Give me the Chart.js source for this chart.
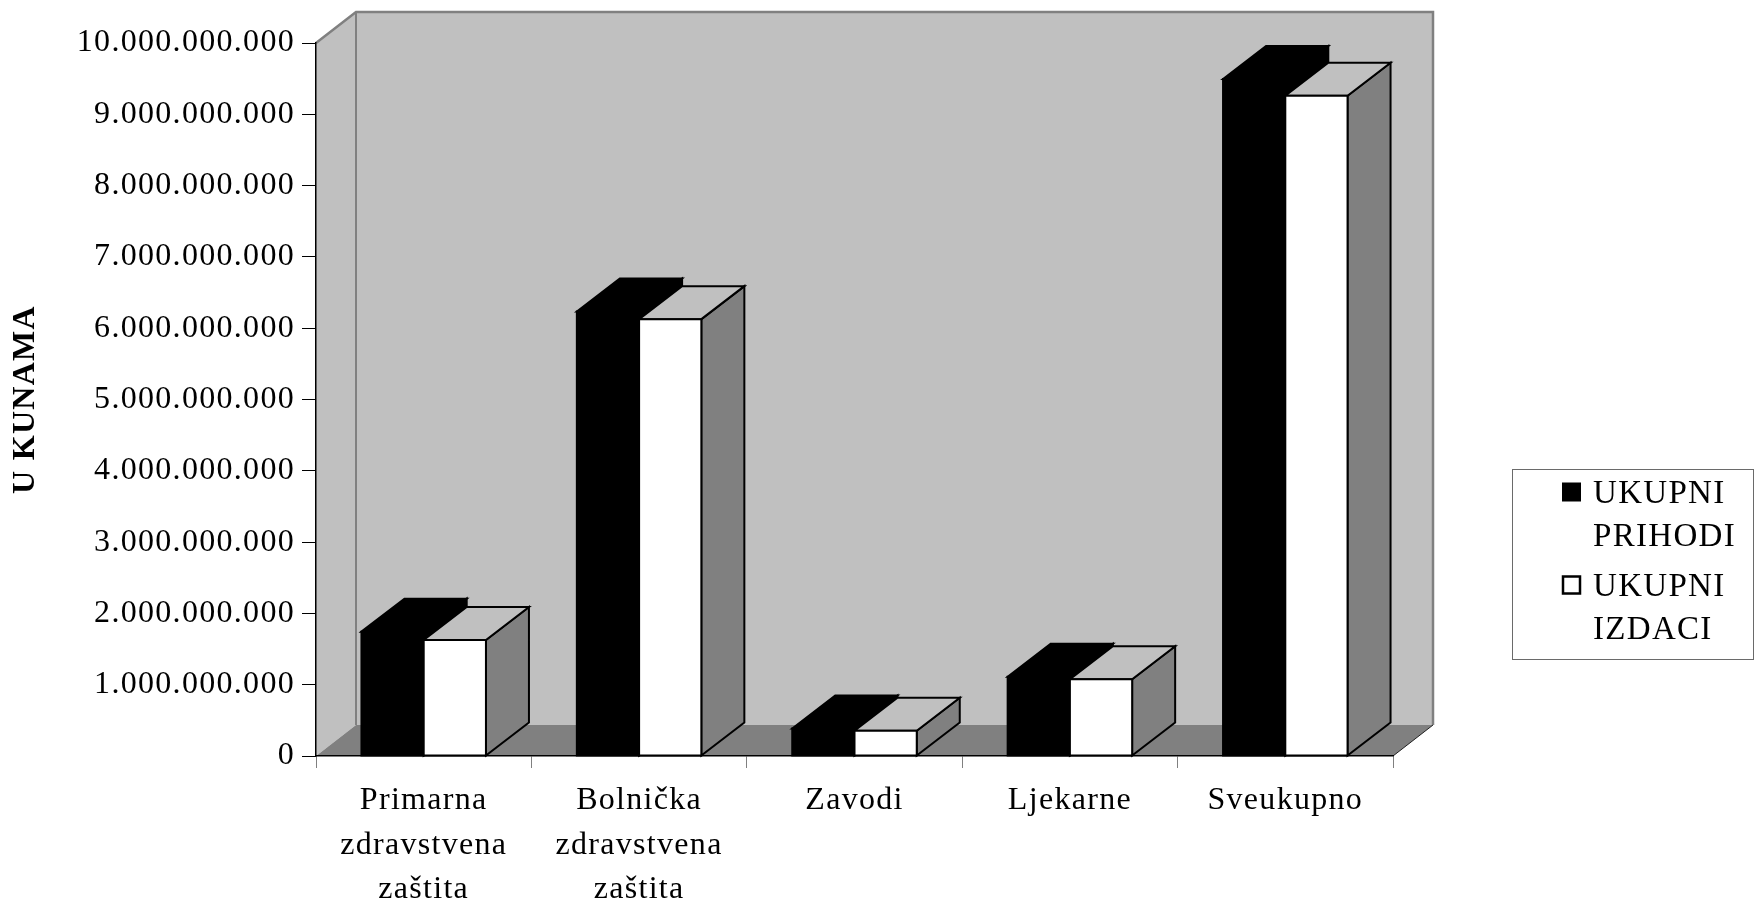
<!DOCTYPE html>
<html><head><meta charset="utf-8">
<script src="https://cdn.jsdelivr.net/npm/chart.js@4.4.0/dist/chart.umd.min.js"></script>
<style>html,body{margin:0;padding:0;background:#fff;} canvas{display:block;}</style>
</head><body>
<canvas id="c" width="1760" height="904" style="width:1760px;height:904px"></canvas>
<script>
const categories = [["Primarna","zdravstvena","zaštita"],["Bolnička","zdravstvena","zaštita"],"Zavodi","Ljekarne","Sveukupno"];
const seriesNames = ["UKUPNI PRIHODI","UKUPNI IZDACI"];
const legendLines = [["UKUPNI","PRIHODI"],["UKUPNI","IZDACI"]];
const prihodi = [1744000000, 6234000000, 385000000, 1110000000, 9495000000];
const izdaci  = [1628000000, 6127000000, 355000000, 1076000000, 9260000000];
const yMin = 0, yMax = 10000000000, yStep = 1000000000;
const yTitle = "U KUNAMA";

const FONT = '"Liberation Serif", "Times New Roman", serif';
const BAR_DX = 43, BAR_DY = 33, WALL_DX = 40, WALL_DY = 31;
const SPACING = '1.3px';

function fmt(v){ return String(Math.round(v)).replace(/\B(?=(\d{3})+(?!\d))/g, '.'); }

function poly(ctx, pts){ ctx.beginPath(); ctx.moveTo(pts[0][0], pts[0][1]); for (let i=1;i<pts.length;i++) ctx.lineTo(pts[i][0], pts[i][1]); ctx.closePath(); }

const wallsPlugin = {
  id: 'walls',
  beforeDraw(chart){
    const ctx = chart.ctx;
    ctx.letterSpacing = SPACING;
    const {left:L, right:R, top:T, bottom:B} = chart.chartArea;
    const dx = WALL_DX, dy = WALL_DY;
    ctx.save();
    ctx.fillStyle = '#c0c0c0';
    poly(ctx, [[L,T],[L+dx,T-dy],[L+dx,B-dy],[L,B]]); ctx.fill();
    ctx.fillRect(L+dx, T-dy, (R+dx)-(L+dx), (B-dy)-(T-dy));
    ctx.fillStyle = '#808080';
    poly(ctx, [[L,B],[L+dx,B-dy],[R+dx,B-dy],[R,B]]); ctx.fill();
    ctx.strokeStyle = '#808080';
    ctx.lineWidth = 2.5;
    ctx.beginPath();
    ctx.moveTo(L, T); ctx.lineTo(L+dx, T-dy); ctx.lineTo(R+dx, T-dy); ctx.lineTo(R+dx, B-dy);
    ctx.stroke();
    ctx.lineWidth = 2;
    ctx.beginPath(); ctx.moveTo(L+dx, T-dy); ctx.lineTo(L+dx, B-dy); ctx.stroke();
    ctx.strokeStyle = '#202020'; ctx.lineWidth = 1;
    ctx.beginPath(); ctx.moveTo(R, B); ctx.lineTo(R+dx, B-dy); ctx.stroke();
    ctx.restore();
  }
};

function drawBox(ctx, x0, x1, y, base, dark){
  const dx = BAR_DX, dy = BAR_DY;
  const front = [[x0,y],[x1,y],[x1,base],[x0,base]];
  const top = [[x0,y],[x0+dx,y-dy],[x1+dx,y-dy],[x1,y]];
  const side = [[x1,y],[x1+dx,y-dy],[x1+dx,base-dy],[x1,base]];
  ctx.lineWidth = 2; ctx.lineJoin = 'miter'; ctx.strokeStyle = '#000';
  if (dark){
    ctx.fillStyle = '#000';
    [side, top, front].forEach(p => { poly(ctx, p); ctx.fill(); ctx.stroke(); });
  } else {
    ctx.fillStyle = '#808080'; poly(ctx, side); ctx.fill(); ctx.stroke();
    ctx.fillStyle = '#c0c0c0'; poly(ctx, top); ctx.fill(); ctx.stroke();
    ctx.fillStyle = '#ffffff'; poly(ctx, front); ctx.fill(); ctx.stroke();
  }
}

const bars3dPlugin = {
  id: 'bars3d',
  afterDatasetsDraw(chart){
    const ctx = chart.ctx;
    const metas = [chart.getDatasetMeta(0), chart.getDatasetMeta(1)];
    ctx.save();
    for (let i = 0; i < categories.length; i++){
      metas.forEach((meta, k) => {
        const el = meta.data[i];
        const p = el.getProps(['x','y','base','width'], true);
        drawBox(ctx, p.x - p.width/2, p.x + p.width/2, p.y, p.base, k === 0);
      });
    }
    ctx.restore();
  }
};

const legendPlugin = {
  id: 'legend3d',
  afterDraw(chart){
    const ctx = chart.ctx;
    ctx.save();
    ctx.letterSpacing = SPACING;
    ctx.strokeStyle = '#6a6a6a'; ctx.lineWidth = 1;
    ctx.strokeRect(1512.5, 469.5, 241, 190);
    ctx.font = '33px ' + FONT;
    ctx.fillStyle = '#000';
    ctx.textBaseline = 'alphabetic';
    ctx.textAlign = 'left';
    const baselines = [[502.5, 545.5],[595.5, 638.5]];
    legendLines.forEach((lines, k) => {
      const bl = baselines[k];
      const sqTop = bl[0] - 20;
      if (k === 0){ ctx.fillStyle = '#000'; ctx.fillRect(1562, sqTop, 19, 19); }
      else { ctx.fillStyle = '#fff'; ctx.fillRect(1563, sqTop+1, 17, 17); ctx.strokeStyle = '#000'; ctx.lineWidth = 2.5; ctx.strokeRect(1563, sqTop+1, 17, 17); }
      ctx.fillStyle = '#000';
      lines.forEach((t, j) => ctx.fillText(t, 1593, bl[j]));
    });
    ctx.restore();
  }
};

new Chart(document.getElementById('c'), {
  type: 'bar',
  data: {
    labels: categories,
    datasets: [
      { label: seriesNames[0], data: prihodi, backgroundColor: 'rgba(0,0,0,0)', borderWidth: 0 },
      { label: seriesNames[1], data: izdaci, backgroundColor: 'rgba(0,0,0,0)', borderWidth: 0 }
    ]
  },
  options: {
    responsive: false,
    animation: false,
    events: [],
    layout: { padding: { left: 0, top: 43, right: 367, bottom: 0 } },
    datasets: { bar: { categoryPercentage: 0.578, barPercentage: 1.0 } },
    plugins: { legend: { display: false }, tooltip: { enabled: false } },
    scales: {
      x: {
        offset: true,
        grid: { display: true, drawOnChartArea: false, drawTicks: true, tickLength: 12, color: '#808080', lineWidth: 1, offset: true },
        border: { display: true, color: '#000', width: 1.5 },
        ticks: { autoSkip: false, maxRotation: 0, minRotation: 0, padding: 10, color: '#000', font: { family: FONT, size: 32, lineHeight: 1.4 } },
        afterFit(s){ s.height = 148; }
      },
      y: {
        min: yMin, max: yMax,
        grid: { display: true, drawOnChartArea: false, drawTicks: true, tickLength: 14, color: '#000', lineWidth: 1 },
        border: { display: true, color: '#000', width: 1.5 },
        ticks: { stepSize: yStep, padding: 7, color: '#000', font: { family: FONT, size: 32 }, callback: v => fmt(v) },
        title: { display: true, text: yTitle, color: '#000', font: { family: FONT, size: 32, weight: 'bold' }, padding: { top: 7, bottom: 0 } },
        afterFit(s){ s.width = 316; }
      }
    }
  },
  plugins: [wallsPlugin, bars3dPlugin, legendPlugin]
});
</script>
</body></html>
